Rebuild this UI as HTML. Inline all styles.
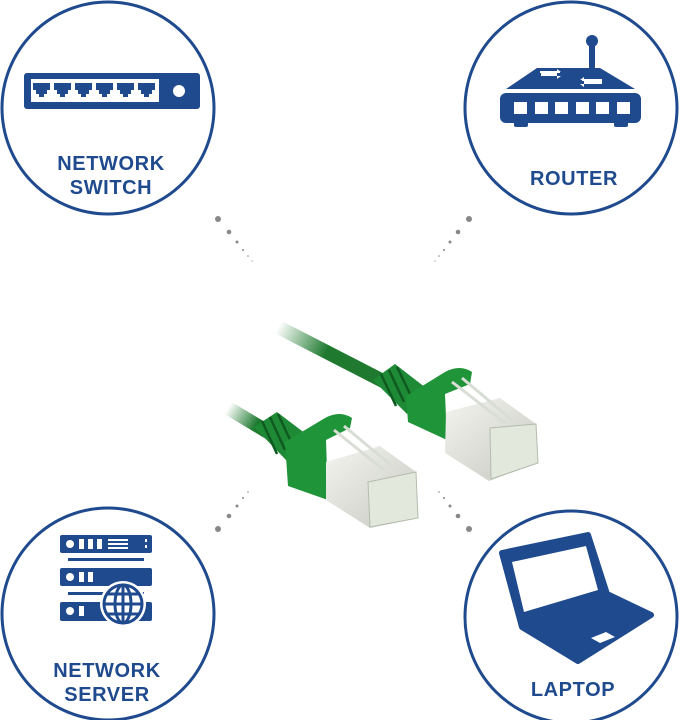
<!DOCTYPE html>
<html><head><style>
html,body{margin:0;padding:0;background:#fff;width:680px;height:720px;overflow:hidden}
svg{display:block}
text{font-family:"Liberation Sans",sans-serif;font-weight:bold;fill:#1f4a8e;text-anchor:middle;font-size:20px;letter-spacing:0.6px}
</style></head><body>
<svg width="680" height="720" viewBox="0 0 680 720">
<defs>
<linearGradient id="fadeR" x1="278" y1="327" x2="385" y2="382" gradientUnits="userSpaceOnUse"><stop offset="0" stop-color="#1f7a30" stop-opacity="0"/><stop offset="0.45" stop-color="#1f7a30"/></linearGradient>
<linearGradient id="fadeL" x1="228" y1="408" x2="268" y2="432" gradientUnits="userSpaceOnUse"><stop offset="0" stop-color="#1f7a30" stop-opacity="0"/><stop offset="0.7" stop-color="#1f7a30"/></linearGradient>
<linearGradient id="silver" x1="0" y1="0" x2="1" y2="1"><stop offset="0" stop-color="#f4f4f0"/><stop offset="1" stop-color="#c6c8c0"/></linearGradient>
</defs>
<g fill="none" stroke="#1f4a8e" stroke-width="3">
<circle cx="108" cy="108" r="106"/>
<circle cx="571" cy="108" r="106"/>
<circle cx="108" cy="614" r="106"/>
<circle cx="571" cy="617" r="106"/>
</g>
<!-- switch -->
<rect x="24" y="73" width="176" height="36" rx="3" fill="#1f4a8e"/>
<rect x="31" y="79" width="128" height="23" fill="#fff"/>
<g fill="#1f4a8e">
<path d="M33 83h17v7h-3v4h-3v3h-5v-3h-3v-4h-3z"/>
<path d="M54 83h17v7h-3v4h-3v3h-5v-3h-3v-4h-3z"/>
<path d="M75 83h17v7h-3v4h-3v3h-5v-3h-3v-4h-3z"/>
<path d="M96 83h17v7h-3v4h-3v3h-5v-3h-3v-4h-3z"/>
<path d="M117 83h17v7h-3v4h-3v3h-5v-3h-3v-4h-3z"/>
<path d="M138 83h17v7h-3v4h-3v3h-5v-3h-3v-4h-3z"/>
</g>
<circle cx="179" cy="91" r="6" fill="#fff"/>
<text x="111" y="170">NETWORK</text>
<text x="111" y="194">SWITCH</text>
<!-- router -->
<circle cx="592" cy="41" r="6" fill="#1f4a8e"/>
<rect x="589" y="41" width="6" height="28" fill="#1f4a8e"/>
<path d="M537 68H600L635 89H506Z" fill="#1f4a8e"/>
<path d="M541 72h20l-4-3v10l4-3h-20z" fill="#fff"/>
<path d="M602 80h-22l4-3v10l-4-3h22z" fill="#fff"/>
<path d="M540 72h20M582 80h20" stroke="#fff" stroke-width="2"/>
<rect x="500" y="93" width="141" height="30" rx="6" fill="#1f4a8e"/>
<rect x="514" y="121" width="14" height="6" rx="2" fill="#1f4a8e"/>
<rect x="614" y="121" width="14" height="6" rx="2" fill="#1f4a8e"/>
<g fill="#fff"><rect x="514" y="102" width="13" height="12"/><rect x="535" y="102" width="13" height="12"/><rect x="555" y="102" width="13" height="12"/><rect x="576" y="102" width="13" height="12"/><rect x="596" y="102" width="13" height="12"/><rect x="617" y="102" width="13" height="12"/></g>
<text x="574" y="185">ROUTER</text>
<!-- server -->
<g fill="#1f4a8e">
<rect x="60" y="535" width="92" height="18" rx="2"/>
<rect x="60" y="568" width="92" height="18" rx="2"/>
<rect x="60" y="602" width="92" height="19" rx="2"/>
<rect x="68" y="558" width="76" height="3"/>
<rect x="68" y="592" width="76" height="3"/>
</g>
<g fill="#fff">
<circle cx="70" cy="544" r="4"/><rect x="79" y="539" width="5" height="10"/><rect x="88" y="539" width="5" height="10"/><rect x="97" y="539" width="5" height="10"/>
<rect x="108" y="539" width="20" height="2"/><rect x="108" y="543" width="20" height="2"/><rect x="108" y="547" width="20" height="2"/>
<circle cx="70" cy="577" r="4"/><rect x="79" y="572" width="5" height="10"/><rect x="88" y="572" width="5" height="10"/>
<circle cx="70" cy="611" r="4"/><rect x="79" y="606" width="5" height="10"/>
<rect x="145" y="539" width="2" height="3"/><rect x="145" y="545" width="2" height="3"/>
</g>
<circle cx="123" cy="604" r="23" fill="#fff"/>
<g fill="none" stroke="#1f4a8e" stroke-width="3">
<circle cx="123" cy="604" r="19"/>
<ellipse cx="123" cy="604" rx="8" ry="19"/>
<path d="M123 585v38M104 604h38M107 594h32M107 614h32"/>
</g>
<text x="107" y="677">NETWORK</text>
<text x="107" y="701">SERVER</text>
<!-- laptop -->
<path d="M502 553L588 535L607 594L651 615L578 661L522 627Z" fill="#1f4a8e" stroke="#1f4a8e" stroke-width="6" stroke-linejoin="round"/>
<path d="M512 562L586 546L598 590L524 612Z" fill="#fff"/>
<path d="M591 638L606 632L615 637L600 643Z" fill="#fff"/>
<text x="573" y="696">LAPTOP</text>
<!-- dots -->
<g fill="#888">
<circle cx="218" cy="219" r="3"/><circle cx="229" cy="232" r="2.3"/><circle cx="237" cy="242" r="1.5"/><circle cx="243" cy="250" r="1"/><circle cx="248" cy="256" r="0.8"/><circle cx="252" cy="261" r="0.6"/>
<circle cx="469" cy="219" r="3"/><circle cx="458" cy="232" r="2.3"/><circle cx="450" cy="242" r="1.5"/><circle cx="444" cy="250" r="1"/><circle cx="439" cy="256" r="0.8"/><circle cx="435" cy="261" r="0.6"/>
<circle cx="218" cy="529" r="3"/><circle cx="229" cy="516" r="2.3"/><circle cx="237" cy="506" r="1.5"/><circle cx="243" cy="498" r="1"/><circle cx="248" cy="492" r="0.8"/>
<circle cx="469" cy="529" r="3"/><circle cx="458" cy="516" r="2.3"/><circle cx="450" cy="506" r="1.5"/><circle cx="444" cy="498" r="1"/><circle cx="439" cy="492" r="0.8"/>
</g>
<!-- right connector -->
<path d="M278 327L385 382" stroke="url(#fadeR)" stroke-width="14" stroke-linecap="round"/>
<path d="M373 380L395 364L426 388L407 414Z" fill="#1f8a35"/>
<g stroke="#0f5a20" stroke-width="2.5"><path d="M381 374L396 406M389 370L404 402M397 367L412 398"/></g>
<path d="M406 396L445 372Q460 364 472 372L470 384L445 394L447 440L408 422Z" fill="#1f9438"/>
<path d="M446 412L500 398L536 424L538 463L489 481L445 453Z" fill="url(#silver)"/>
<path d="M490 428L536 424L538 463L491 479Z" fill="#e2e8dc" stroke="#b4bcae"/>
<path d="M452 382L505 423M462 378L512 420" stroke="#d8ddd6" stroke-width="3"/>
<!-- left connector -->
<path d="M228 408L268 432" stroke="url(#fadeL)" stroke-width="14" stroke-linecap="round"/>
<path d="M254 427L277 412L306 434L288 462Z" fill="#1f8a35"/>
<g stroke="#0f5a20" stroke-width="2.5"><path d="M262 421L277 454M270 417L285 450M278 414L293 446"/></g>
<path d="M285 442L325 418Q340 410 352 418L350 428L326 440L328 500L288 486Z" fill="#1f9438"/>
<path d="M326 462L380 446L416 472L418 518L370 528L326 500Z" fill="url(#silver)"/>
<path d="M368 482L416 472L418 518L370 527Z" fill="#e2e8dc" stroke="#b4bcae"/>
<path d="M334 430L384 470M344 426L392 466" stroke="#d8ddd6" stroke-width="3"/>
</svg>
</body></html>
